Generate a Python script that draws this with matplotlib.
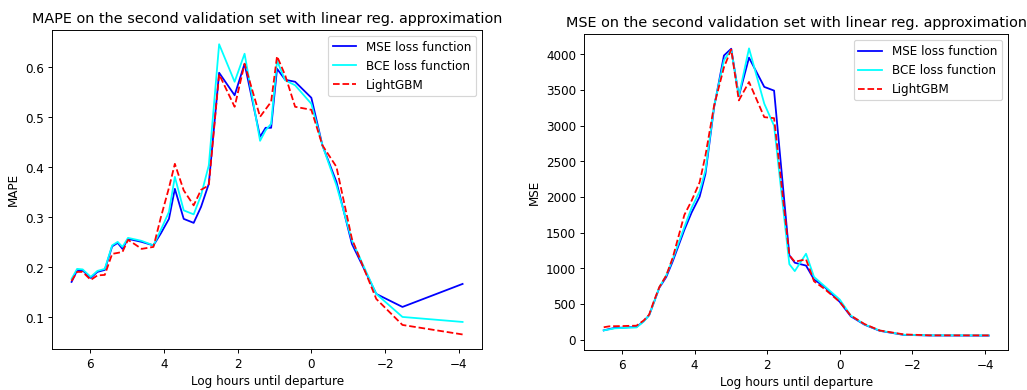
import numpy as np
import matplotlib
matplotlib.use("Agg")
import matplotlib.pyplot as plt
from matplotlib.ticker import MultipleLocator

# log hours until departure (shared grid for both panels)
log_hours = [6.50, 6.35, 6.20, 5.98, 5.80, 5.60, 5.40, 5.25, 5.12, 4.97, 4.78, 4.60,
             4.28, 4.08, 3.86, 3.70, 3.46, 3.19, 2.99, 2.78, 2.50, 2.08, 1.81, 1.39,
             1.24, 1.09, 0.93, 0.71, 0.44, 0.00, -0.30, -0.68, -1.10, -1.76, -2.47, -4.10]

mape_mse = [0.171, 0.194, 0.194, 0.179, 0.191, 0.195, 0.242, 0.249, 0.237, 0.257, 0.254, 0.251,
            0.244, 0.268, 0.297, 0.357, 0.297, 0.289, 0.321, 0.367, 0.589, 0.544, 0.607, 0.461,
            0.479, 0.479, 0.597, 0.575, 0.571, 0.539, 0.444, 0.371, 0.247, 0.147, 0.121, 0.167]
mape_bce = [0.177, 0.197, 0.196, 0.181, 0.193, 0.197, 0.244, 0.251, 0.241, 0.259, 0.256, 0.253,
            0.244, 0.275, 0.311, 0.381, 0.314, 0.306, 0.344, 0.404, 0.646, 0.571, 0.627, 0.453,
            0.474, 0.487, 0.613, 0.574, 0.564, 0.527, 0.444, 0.364, 0.254, 0.147, 0.101, 0.091]
mape_lgbm = [0.173, 0.191, 0.191, 0.175, 0.184, 0.185, 0.227, 0.229, 0.231, 0.255, 0.246, 0.237,
             0.241, 0.300, 0.359, 0.407, 0.354, 0.324, 0.355, 0.364, 0.586, 0.521, 0.607, 0.501,
             0.516, 0.531, 0.622, 0.584, 0.521, 0.515, 0.444, 0.401, 0.257, 0.137, 0.085, 0.066]

mse_mse = [131, 150, 165, 170, 175, 178, 260, 343, 520, 728, 878, 1100,
           1540, 1784, 2005, 2324, 3263, 3985, 4080, 3415, 3955, 3545, 3493, 1185,
           1080, 1060, 1040, 845, 750, 530, 329, 211, 125, 68, 60, 58]
mse_bce = [131, 145, 160, 165, 170, 172, 255, 343, 520, 735, 900, 1130,
           1580, 1850, 2080, 2371, 3280, 3920, 4065, 3420, 4085, 3310, 3000, 1060,
           962, 1080, 1206, 880, 760, 563, 340, 215, 128, 70, 62, 61]
mse_lgbm = [175, 188, 190, 192, 195, 197, 270, 352, 540, 737, 900, 1150,
            1750, 1950, 2207, 2582, 3286, 3820, 4070, 3356, 3614, 3121, 3107, 1183,
            1094, 1110, 1127, 820, 720, 530, 340, 220, 130, 75, 62, 61]

labels = ['MSE loss function', 'BCE loss function', 'LightGBM']

dpi = 86
fig = plt.figure(figsize=(1027.3 / dpi, 390.3 / dpi), dpi=dpi)
ax1 = fig.add_axes([52 / 1027, 41 / 390, 430 / 1027, 319 / 390])
ax2 = fig.add_axes([584.3 / 1027, 40 / 390, 423.4 / 1027, 315.7 / 390])

for ax, series, name in [(ax1, (mape_mse, mape_bce, mape_lgbm), 'MAPE'),
                         (ax2, (mse_mse, mse_bce, mse_lgbm), 'MSE')]:
    ax.plot(log_hours, series[0], color='blue', label=labels[0])
    ax.plot(log_hours, series[1], color='cyan', label=labels[1])
    ax.plot(log_hours, series[2], color='red', linestyle='--', label=labels[2])
    ax.invert_xaxis()
    ax.set_xlabel('Log hours until departure')
    ax.set_ylabel(name)
    ax.set_title(name + ' on the second validation set with linear reg. approximation')
    ax.legend(loc='upper right')

ax2.yaxis.set_major_locator(MultipleLocator(500))

fig.savefig('out.png', dpi=dpi)
